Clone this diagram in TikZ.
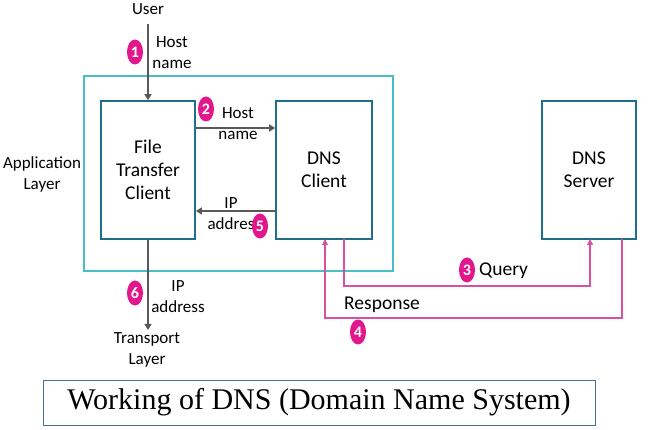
\documentclass[tikz,border=0pt]{standalone}
\usepackage{fontspec}
\setmainfont{Carlito}
\newfontfamily\titlefont{Liberation Serif}
\usetikzlibrary{shapes.geometric,arrows.meta}
\definecolor{boxc}{HTML}{1F6F8B}
\definecolor{outerc}{HTML}{47BFC4}
\definecolor{pinkl}{HTML}{D9509F}
\definecolor{badgec}{HTML}{E2178C}
\definecolor{arrc}{HTML}{595959}
\begin{document}
\begin{tikzpicture}[x=1pt,y=-1pt,
  comp/.style={draw=boxc,line width=1.6pt,fill=white,align=center,font=\fontsize{19.5}{23}\selectfont},
  lbl/.style={align=center,font=\fontsize{17}{21}\selectfont,inner sep=0pt},
  blbl/.style={font=\fontsize{19.5}{21}\selectfont,inner sep=0pt},
  badge/.style={ellipse,fill=badgec,text=white,font=\bfseries\fontsize{16}{16}\selectfont,inner sep=0pt,minimum width=16pt,minimum height=25pt},
  garrow/.style={draw=arrc,line width=1.4pt,-{Triangle[length=6pt,width=7pt]}},
  parrow/.style={draw=pinkl,line width=1.1pt,-{Triangle[length=6pt,width=6pt]}}]
\useasboundingbox (0,0) rectangle (648,430);
\node[draw=outerc,line width=1.6pt,minimum width=309pt,minimum height=195pt,inner sep=0pt] (outer) at (238.5,173.5) {};
\node[comp,minimum width=94pt,minimum height=138pt,inner sep=0pt] (ftc) at (148,170) {File\\Transfer\\Client};
\node[comp,minimum width=96pt,minimum height=138pt,inner sep=0pt] (dnsc) at (324,170) {DNS\\Client};
\node[comp,minimum width=94pt,minimum height=138pt,inner sep=0pt] (dnss) at (589,170) {DNS\\Server};
\node[lbl] (user) at (148,9) {User};
\node[lbl] (tl) at (147,350) {Transport\\Layer};
\node[lbl] (app) at (42,174) {Application\\Layer};
% step 1
\draw[garrow] (user.south |- 0,24) -- (ftc.north);
\node[badge] (b1) at (135,52) {1};
\node[lbl] (l1) at (172,53) {Host\\name};
% step 2
\draw[garrow] (ftc.east |- 0,128) -- (dnsc.west |- 0,128);
\node[badge] (b2) at (206,109) {2};
\node[lbl] (l2) at (238,123.5) {Host\\name};
% step 5
\draw[garrow] (dnsc.west |- 0,211) -- (ftc.east |- 0,211);
\node[lbl] (l5) at (231,213.5) {IP\\addres};
\node[badge] (b5) at (260,226) {5};
% step 6
\draw[garrow] (ftc.south) -- (148,330);
\node[badge] (b6) at (135,293) {6};
\node[lbl] (l6) at (178,297) {IP\\address};
% query
\coordinate (q1) at (344,239);
\coordinate (q2) at (590,239);
\draw[parrow] (q1) -- (344,286) -- (590,286) -- (q2);
\node[badge] (b3) at (467,270) {3};
\node[blbl,anchor=west] (lq) at (479,271) {Query};
% response
\coordinate (r1) at (622,239);
\coordinate (r2) at (325,239);
\draw[parrow] (r1) -- (622,318) -- (325,318) -- (r2);
\node[blbl,anchor=west] (lr) at (344,305) {Response};
\node[badge] (b4) at (358,332) {4};
% title
\node[draw=boxc!60!gray,line width=0.8pt,minimum width=552pt,minimum height=45pt,inner sep=0pt,font=\titlefont\fontsize{30}{30}\selectfont] (title) at (319,402.5) {Working of DNS (Domain Name System)};
\end{tikzpicture}
\end{document}
